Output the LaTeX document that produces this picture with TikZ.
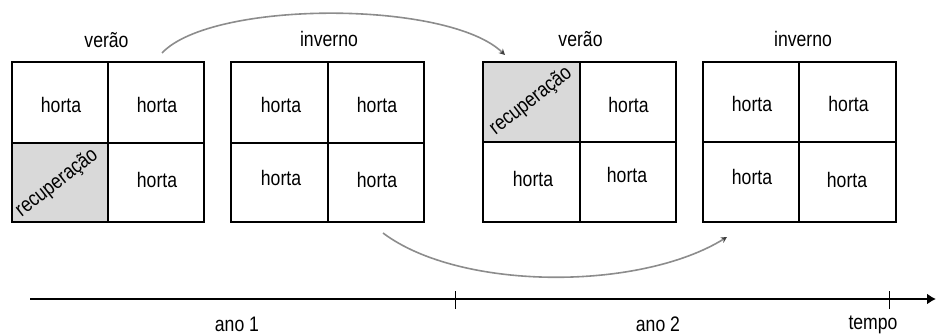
\documentclass[tikz,border=0pt]{standalone}
\usepackage{fontspec}
\setmainfont{Liberation Sans}[FakeStretch=0.84]
\usetikzlibrary{arrows.meta}
\definecolor{recgray}{RGB}{217,217,217}
\definecolor{arcgray}{RGB}{140,140,140}
\begin{document}
\begin{tikzpicture}[x=1pt,y=-1pt,
  lbl/.style={inner sep=0pt,anchor=base,font=\fontsize{21}{25}\selectfont},
  grid/.style={line width=2.4pt,line join=miter},
  rectxt/.style={inner sep=0pt,anchor=center,rotate=38,font=\fontsize{21}{25}\selectfont},
  arc/.style={draw=arcgray,line width=1.6pt,-{Stealth[length=6pt,width=6pt,color=black!75,fill=black!75]}},
  tick/.style={line width=1pt},
  axis/.style={line width=2.2pt,-{Latex[length=9pt,width=11pt]}}]
\useasboundingbox (0,0) rectangle (936,334);
% shaded cells
\fill[recgray] (12,143) rectangle (108,222);
\fill[recgray] (483,62) rectangle (580,142);
% grids
\draw[grid] (12,62) rectangle (204,222) (108,62) -- (108,222) (12,143) -- (204,143);
\draw[grid] (231,62) rectangle (424,222) (328,62) -- (328,222) (231,143) -- (424,143);
\draw[grid] (483,62) rectangle (676,222) (580,62) -- (580,222) (483,142) -- (676,142);
\draw[grid] (703,62) rectangle (896,222) (799,62) -- (799,222) (703,142) -- (896,142);
% season labels
\node[lbl] (s1) at (106.5,48) {verão};
\node[lbl] (s2) at (329,47) {inverno};
\node[lbl] (s3) at (580.5,47) {verão};
\node[lbl] (s4) at (803,47) {inverno};
% box 1
\node[lbl] (b1a) at (61,113) {horta};
\node[lbl] (b1b) at (157,113) {horta};
\node[rectxt] (b1c) at (57,183) {recuperação};
\node[lbl] (b1d) at (157,187) {horta};
% box 2
\node[lbl] (b2a) at (281,113) {horta};
\node[lbl] (b2b) at (377,113) {horta};
\node[lbl] (b2c) at (281,185) {horta};
\node[lbl] (b2d) at (377,187) {horta};
% box 3
\node[rectxt] (b3a) at (531,101) {recuperação};
\node[lbl] (b3b) at (628.5,113) {horta};
\node[lbl] (b3c) at (533,186) {horta};
\node[lbl] (b3d) at (627,182) {horta};
% box 4
\node[lbl] (b4a) at (752,111) {horta};
\node[lbl] (b4b) at (848.5,111) {horta};
\node[lbl] (b4c) at (752,184) {horta};
\node[lbl] (b4d) at (847,187) {horta};
% arcs
\coordinate (u0) at (162,53);
\coordinate (u1) at (505,55);
\draw[arc] (u0) .. controls (212,0) and (448,0) .. (u1);
\coordinate (l0) at (383,233);
\coordinate (l1) at (727,237);
\draw[arc] (l0) .. controls (460,291) and (640,291) .. (l1);
% time axis
\coordinate (ax0) at (30,299);
\coordinate (ax1) at (936,299);
\draw[axis] (ax0) -- (ax1);
\coordinate (t1a) at (455,291);
\coordinate (t1b) at (455,309);
\coordinate (t2a) at (889,291);
\coordinate (t2b) at (889,309);
\draw[tick] (t1a) -- (t1b);
\draw[tick] (t2a) -- (t2b);
\node[lbl] (y1) at (237,331) {ano 1};
\node[lbl] (y2) at (658,331) {ano 2};
\node[lbl] (tp) at (873,329) {tempo};
\end{tikzpicture}
\end{document}
